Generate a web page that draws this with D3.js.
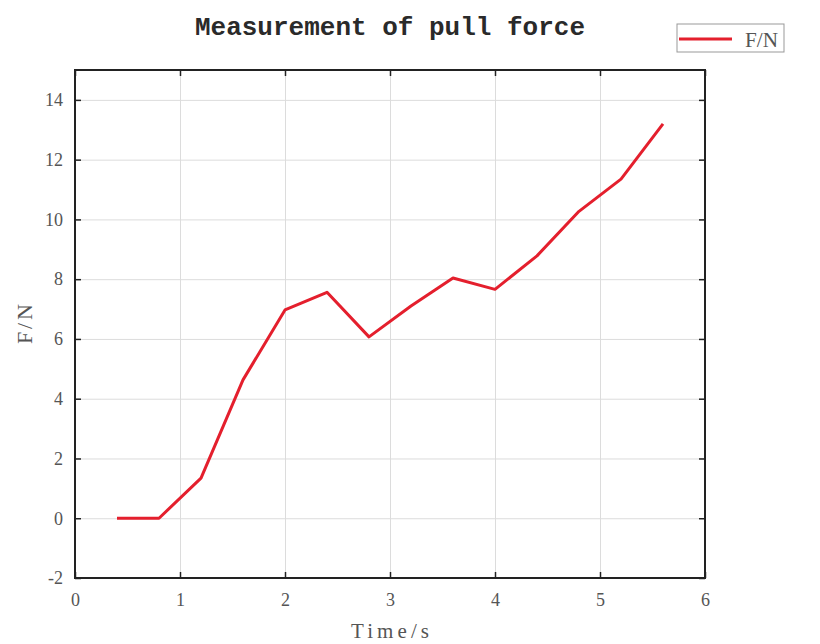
<!DOCTYPE html>
<html>
<head>
<meta charset="utf-8">
<script src="https://cdn.jsdelivr.net/npm/d3@7"></script>
<style>
  html, body { margin: 0; padding: 0; background: #fff; }
  svg { display: block; }
</style>
</head>
<body>
<svg id="chart" width="820" height="644"></svg>
<script>
const timeValues = [0.4, 0.8, 1.2, 1.6, 2.0, 2.4, 2.8, 3.2, 3.6, 4.0, 4.4, 4.8, 5.2, 5.6];
const forceValues = [0, 0, 1.34, 4.63, 6.97, 7.56, 6.07, 7.1, 8.04, 7.66, 8.78, 10.27, 11.35, 13.2];
const xTicks = [0, 1, 2, 3, 4, 5, 6];
const yTicks = [-2, 0, 2, 4, 6, 8, 10, 12, 14];
const seriesName = "F/N";
const titleText = "Measurement of pull force";
const xLabel = "Time/s";
const yLabel = "F/N";

const svg = d3.select("#chart");
const L = 75, R = 705, T = 70, B = 578;
const x = d3.scaleLinear().domain([0, 6]).range([L, R]);
const y = d3.scaleLinear().domain([-2, 15]).range([B, T]);

const serif = "'Liberation Serif', 'DejaVu Serif', serif";
const mono = "'Liberation Mono', 'DejaVu Sans Mono', monospace";
const fmt = d => String(d);

// grid
svg.append("g").attr("transform", `translate(0,${B})`)
  .call(d3.axisBottom(x).tickValues(xTicks).tickSize(-(B - T)).tickFormat(""))
  .call(g => g.select(".domain").remove())
  .call(g => g.selectAll("line").attr("stroke", "#dcdcdc").attr("stroke-width", 1));
svg.append("g").attr("transform", `translate(${L},0)`)
  .call(d3.axisLeft(y).tickValues(yTicks).tickSize(-(R - L)).tickFormat(""))
  .call(g => g.select(".domain").remove())
  .call(g => g.selectAll("line").attr("stroke", "#dcdcdc").attr("stroke-width", 1));

// axes with inward ticks
const styleAxis = g => {
  g.select(".domain").remove();
  g.selectAll("line").attr("stroke", "#222").attr("stroke-width", 1.5);
  g.selectAll("text").attr("font-family", serif).attr("font-size", 18).attr("fill", "#555");
};
svg.append("g").attr("transform", `translate(0,${B})`)
  .call(d3.axisBottom(x).tickValues(xTicks).tickSize(-6).tickPadding(15).tickFormat(fmt))
  .call(styleAxis);
svg.append("g").attr("transform", `translate(${L},0)`)
  .call(d3.axisLeft(y).tickValues(yTicks).tickSize(-6).tickPadding(12).tickFormat(fmt))
  .call(styleAxis);
svg.append("g").attr("transform", `translate(0,${T})`)
  .call(d3.axisTop(x).tickValues(xTicks).tickSize(-6).tickFormat(""))
  .call(styleAxis);
svg.append("g").attr("transform", `translate(${R},0)`)
  .call(d3.axisRight(y).tickValues(yTicks).tickSize(-6).tickFormat(""))
  .call(styleAxis);

// frame
svg.append("rect").attr("x", L).attr("y", T).attr("width", R - L).attr("height", B - T)
  .attr("fill", "none").attr("stroke", "#222").attr("stroke-width", 2);

// line
const data = timeValues.map((t, i) => ({ t, f: forceValues[i] }));
svg.append("path").datum(data)
  .attr("fill", "none").attr("stroke", "#e41f2d").attr("stroke-width", 3)
  .attr("stroke-linejoin", "round")
  .attr("d", d3.line().x(d => x(d.t)).y(d => y(d.f)));

// title
svg.append("text").attr("x", (L + R) / 2).attr("y", 35).attr("text-anchor", "middle")
  .attr("font-family", mono).attr("font-weight", "bold").attr("font-size", 26).attr("fill", "#2a2a2a")
  .text(titleText);

// axis labels
svg.append("text").attr("x", (L + R) / 2).attr("y", 638).attr("text-anchor", "middle")
  .attr("font-family", serif).attr("font-size", 21).attr("fill", "#555")
  .attr("textLength", 78).attr("lengthAdjust", "spacing")
  .text(xLabel);
svg.append("text").attr("transform", `translate(32,${(T + B) / 2}) rotate(-90)`).attr("text-anchor", "middle")
  .attr("font-family", serif).attr("font-size", 22).attr("fill", "#555")
  .attr("textLength", 40).attr("lengthAdjust", "spacing")
  .text(yLabel);

// legend
const lg = svg.append("g");
lg.append("rect").attr("x", 677).attr("y", 24).attr("width", 107).attr("height", 28)
  .attr("fill", "#fff").attr("stroke", "#999").attr("stroke-width", 1);
lg.append("line").attr("x1", 679).attr("x2", 732).attr("y1", 39).attr("y2", 39)
  .attr("stroke", "#e41f2d").attr("stroke-width", 3);
lg.append("text").attr("x", 745).attr("y", 47)
  .attr("font-family", serif).attr("font-size", 21).attr("fill", "#555")
  .attr("textLength", 33).attr("lengthAdjust", "spacingAndGlyphs")
  .text(seriesName);
</script>
</body>
</html>
